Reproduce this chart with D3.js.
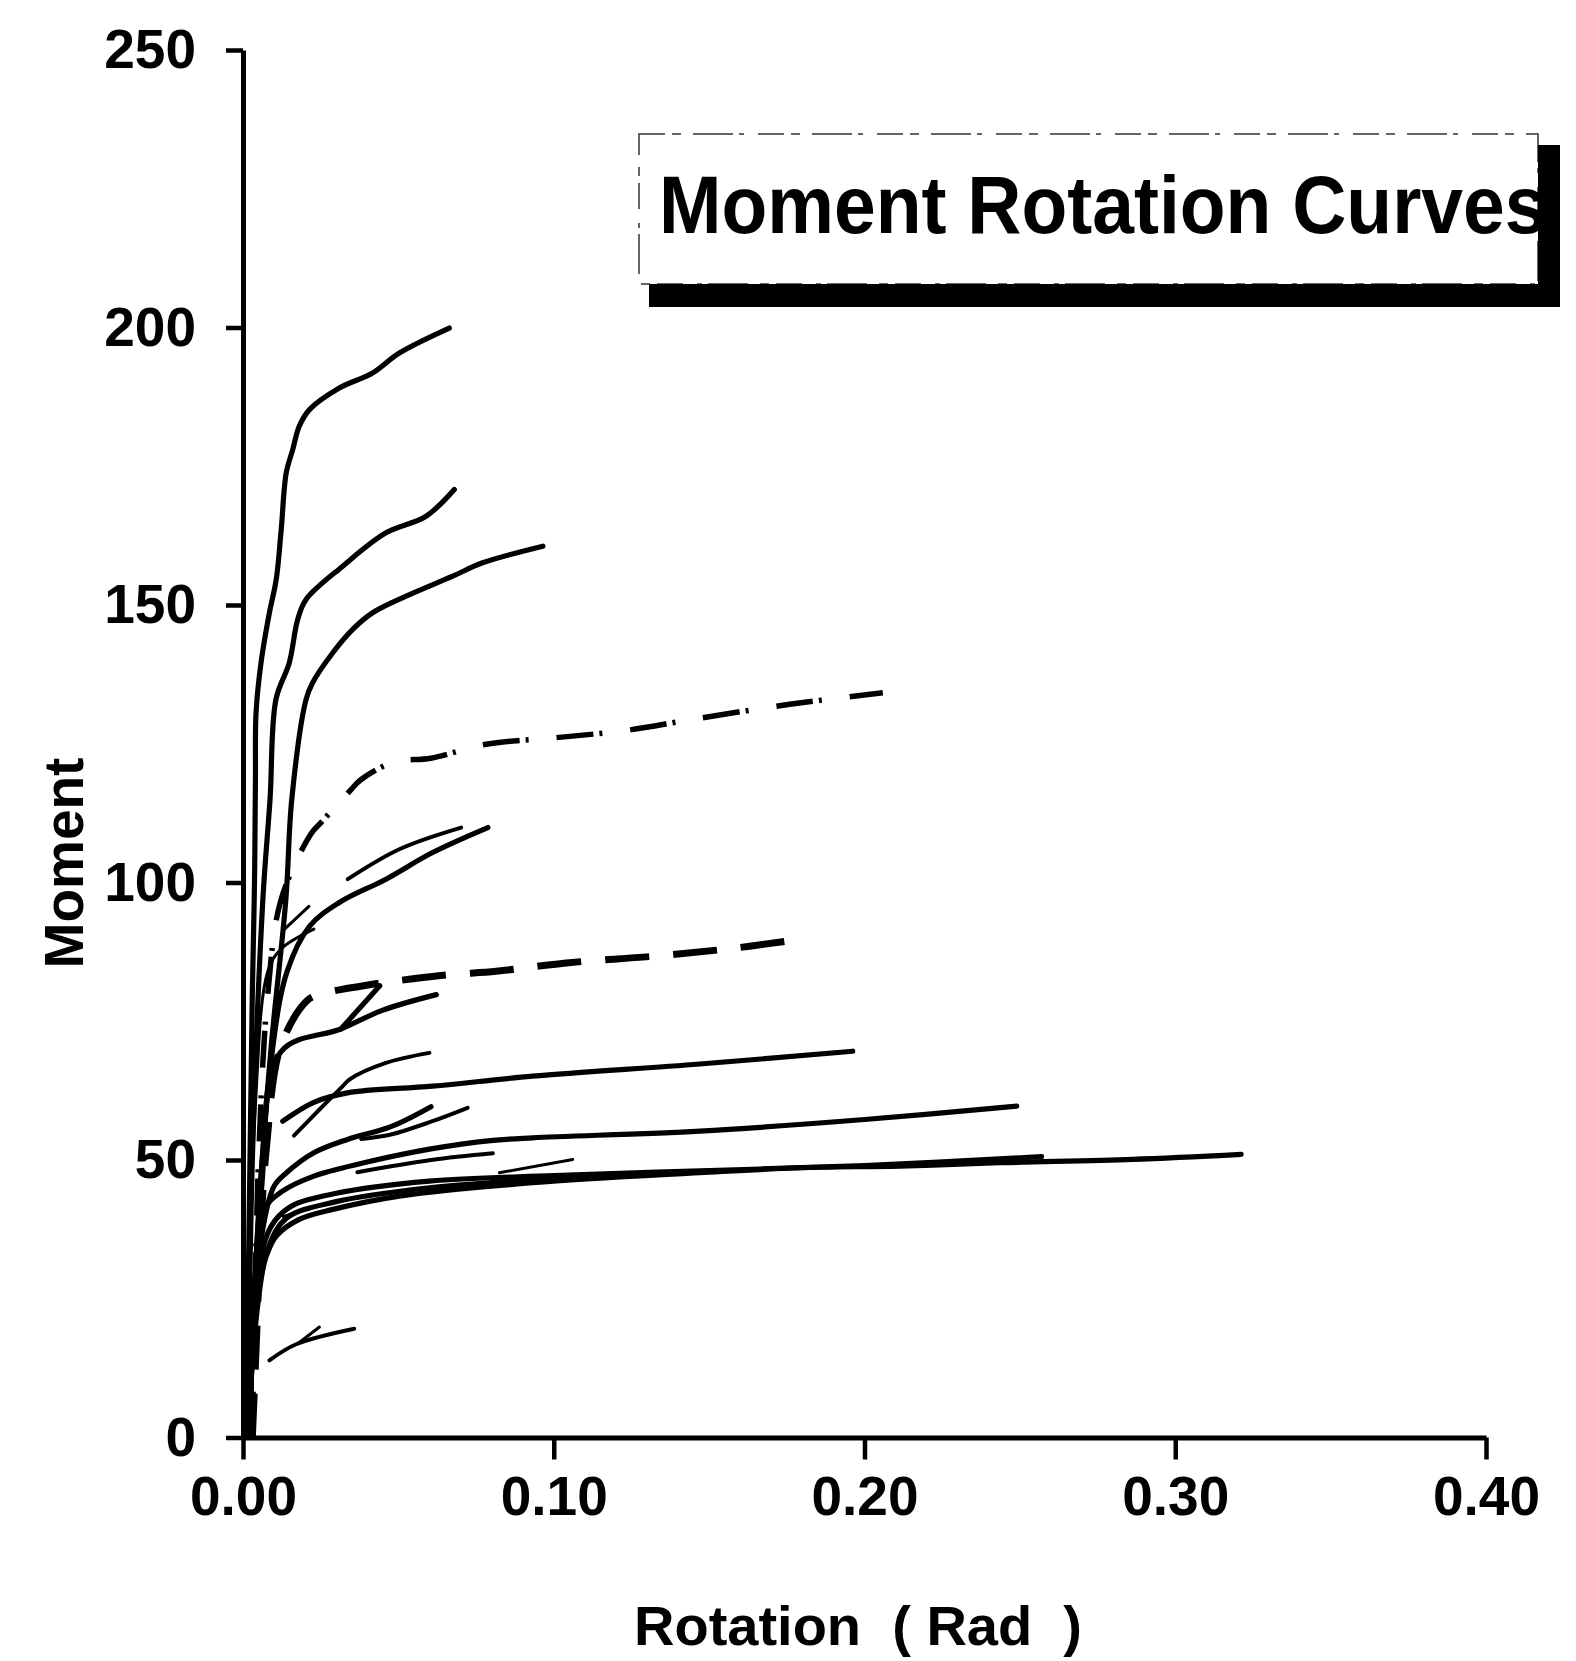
<!DOCTYPE html>
<html>
<head>
<meta charset="utf-8">
<script src="https://cdn.jsdelivr.net/npm/d3@7"></script>
<style>
  html, body { margin: 0; padding: 0; background: #fff; }
  svg { display: block; }
  text { font-family: "Liberation Sans", Arial, Helvetica, sans-serif; font-weight: bold; fill: #000; }
</style>
</head>
<body>
<svg id="chart" width="1576" height="1661"></svg>
<script>
// Axis ticks
const rotationTicks = [0, 0.1, 0.2, 0.3, 0.4];
const momentTicks = [0, 50, 100, 150, 200, 250];

// Moment–rotation test curves: [rotation (rad), moment]
const curveA = [[0.0010,0],[0.0020,40],[0.0030,80],[0.0037,100],[0.0040,118.6],[0.0042,130.6],[0.0058,139.6],[0.0085,148.6],[0.0107,154.6],[0.0123,163.6],[0.0139,173.8],[0.0160,178.0],[0.0181,182.2],[0.0214,185.2],[0.0310,189.1],[0.0417,191.8],[0.0503,195.4],[0.0664,199.9]];
const curveB = [[0.0015,0],[0.0030,50],[0.0064,97],[0.0087,115],[0.0106,133],[0.0149,139.6],[0.0176,147.4],[0.0203,151.0],[0.0321,157.0],[0.0460,163.0],[0.0589,166.0],[0.0680,170.8]];
const curveC = [[0.0020,0],[0.0050,40],[0.0090,70],[0.0138,97],[0.0157,115],[0.0203,133],[0.0224,136.0],[0.0289,141.4],[0.0353,145.6],[0.0417,148.6],[0.0525,151.6],[0.0675,155.2],[0.0771,157.6],[0.0965,160.6]];
const curveD = [[0.0030,0],[0.0050,50],[0.0080,80],[0.0122,96.8],[0.0219,108.8],[0.0251,110.8],[0.0347,116.7],[0.0379,118.5],[0.0485,121.7],[0.0604,122.4],[0.0782,124.9],[0.1008,126.1],[0.1233,127.4],[0.1447,129.4],[0.1759,132.1],[0.2059,134.2]];
const curveE = [[0.0030,0],[0.0045,20],[0.0055,35],[0.0075,52],[0.0122,70.6],[0.0208,78.8],[0.0251,79.9],[0.0421,81.7],[0.0540,82.6],[0.0669,83.4],[0.0815,84.0],[0.1040,85.5],[0.1319,86.7],[0.1555,88.0],[0.1748,89.4]];
const curveF = [[0.0020,0],[0.0060,45],[0.0122,69.5],[0.0315,73.6],[0.0450,77.0],[0.0622,79.8]];
const curveG = [[0.0315,73.6],[0.0440,81.4]];
const curveI = [[0.0020,0],[0.0050,40],[0.0095,70],[0.0142,84],[0.0214,92.1],[0.0310,96.4],[0.0460,100.6],[0.0610,105.4],[0.0788,109.9]];
const curveI2 = [[0.0010,0],[0.0040,60],[0.0080,84],[0.0122,88.0],[0.0228,91.6]];
const curveJ = [[0.0132,91.5],[0.0212,95.7]];
const curveJ2 = [[0.0337,100.6],[0.0503,106.0],[0.0702,109.9]];
const curveL = [[0.0164,54.4],[0.0246,59.1],[0.0321,63.3],[0.0342,64.5],[0.0460,67.5],[0.0600,69.3]];
const curveM = [[0.0128,57.0],[0.0228,60.4],[0.0336,62.1],[0.0610,63.3],[0.0932,65.1],[0.1470,67.3],[0.1962,69.6]];
const curveN1 = [[0.0020,0],[0.0040,25],[0.0065,38],[0.0099,45.2],[0.0140,47.7],[0.0228,51.3],[0.0336,53.7],[0.0476,56.0],[0.0605,59.6]];
const curveN2 = [[0.0380,53.8],[0.0476,54.6],[0.0605,56.9],[0.0723,59.4]];
const curveO1 = [[0.0368,47.8],[0.0605,50.0],[0.0804,51.2]];
const curveO2 = [[0.0825,47.7],[0.1061,50.1]];
const curveP1 = [[0.0020,0],[0.0040,30],[0.0068,41.1],[0.0122,44.2],[0.0228,47.1],[0.0389,49.5],[0.0605,52.0],[0.0797,53.5],[0.0932,54.0],[0.1470,55.2],[0.2000,57.3],[0.2490,59.7]];
const curveP2 = [[0.0032,18.8],[0.0053,28.0],[0.0075,32.7],[0.0107,36.3],[0.0181,39.3],[0.0289,41.1],[0.0503,43.5],[0.0932,45.9],[0.1470,47.7],[0.1790,48.6],[0.2113,48.9],[0.2435,49.5],[0.2863,50.1],[0.3212,51.0]];
const curveP3 = [[0.0020,0],[0.0050,30],[0.0090,38],[0.0150,41.5],[0.0300,44.0],[0.0600,46.2],[0.1000,47.2],[0.1500,48.1],[0.2000,49.0],[0.2570,50.6]];
const curveP4 = [[0.0040,20],[0.0080,34],[0.0140,39.5],[0.0300,42.5],[0.0600,45.0],[0.0900,46.3],[0.1200,47.2]];
const curveP5 = [[0.0129,39.8],[0.0250,41.8],[0.0399,43.5]];
const curveQ = [[0.0085,13.9],[0.0171,16.8],[0.0358,19.6]];
const curveQ2 = [[0.0176,16.9],[0.0246,19.9]];

const seriesList = [
  { values: curveA, kind: "heavy" },
  { values: curveB, kind: "heavy" },
  { values: curveC, kind: "heavy" },
  { values: curveF, kind: "heavy" },
  { values: curveG, kind: "heavy" },
  { values: curveI, kind: "heavy" },
  { values: curveI2, kind: "light" },
  { values: curveJ, kind: "light" },
  { values: curveJ2, kind: "medium" },
  { values: curveL, kind: "medium" },
  { values: curveM, kind: "heavy" },
  { values: curveN1, kind: "heavy" },
  { values: curveN2, kind: "medium" },
  { values: curveO1, kind: "medium" },
  { values: curveO2, kind: "light" },
  { values: curveP1, kind: "heavy" },
  { values: curveP3, kind: "heavy" },
  { values: curveP4, kind: "heavy" },
  { values: curveP5, kind: "light" },
  { values: curveP2, kind: "heavy" },
  { values: curveQ, kind: "medium" },
  { values: curveQ2, kind: "light" },
  { values: curveD, kind: "dashdot" },
  { values: curveE, kind: "dashed" }
];

const lineStyles = {
  heavy:   { width: 5.2, dash: null, cap: "round" },
  medium:  { width: 4,   dash: null, cap: "round" },
  light:   { width: 3,   dash: null, cap: "round" },
  dashed:  { width: 7,   dash: "44,24", cap: "butt" },
  dashdot: { width: 5.5, dash: "37,6,3,28", cap: "butt" }
};

const svg = d3.select("#chart");

const x = d3.scaleLinear().domain([0, 0.4]).range([243, 1486]);
const y = d3.scaleLinear().domain([0, 250]).range([1437.5, 50]);

// Curves
const line = d3.line()
  .x(d => x(d[0]))
  .y(d => y(d[1]))
  .curve(d3.curveCatmullRom.alpha(0.5));

svg.append("g")
  .selectAll("path")
  .data(seriesList)
  .join("path")
  .attr("d", d => line(d.values))
  .attr("fill", "none")
  .attr("stroke", "#000")
  .attr("stroke-width", d => lineStyles[d.kind].width)
  .attr("stroke-dasharray", d => lineStyles[d.kind].dash)
  .attr("stroke-linecap", d => lineStyles[d.kind].cap)
  .attr("stroke-linejoin", "round");

// Axes
const yAxis = d3.axisLeft(y)
  .tickValues(momentTicks)
  .tickFormat(d3.format("d"))
  .tickSize(17)
  .tickSizeOuter(0)
  .tickPadding(30);

const xAxis = d3.axisBottom(x)
  .tickValues(rotationTicks)
  .tickFormat(d3.format(".2f"))
  .tickSize(22)
  .tickSizeOuter(0)
  .tickPadding(16);

const gy = svg.append("g").attr("transform", `translate(${x(0)},0)`).call(yAxis);
const gx = svg.append("g").attr("transform", `translate(0,${y(0)})`).call(xAxis);

[gy, gx].forEach(g => {
  g.attr("font-family", null).attr("font-size", null);
  g.select(".domain").attr("stroke", "#000").attr("stroke-width", 5);
  g.selectAll(".tick line").attr("stroke", "#000").attr("stroke-width", 4.5);
  g.selectAll(".tick text")
    .attr("fill", "#000")
    .style("font-size", "55px")
    .style("font-family", "\"Liberation Sans\", Arial, sans-serif")
    .style("font-weight", "bold");
});

// Axis titles
svg.append("text")
  .attr("x", 858)
  .attr("y", 1645)
  .attr("text-anchor", "middle")
  .attr("xml:space", "preserve")
  .style("white-space", "pre")
  .style("font-size", "56px")
  .text("Rotation  ( Rad  )");

svg.append("text")
  .attr("transform", "translate(83,863) rotate(-90)")
  .attr("text-anchor", "middle")
  .style("font-size", "55px")
  .text("Moment");

// Title box with drop shadow
const box = { x0: 639, y0: 134, x1: 1538, y1: 284 };
svg.append("rect")
  .attr("x", box.x0).attr("y", box.y0)
  .attr("width", box.x1 - box.x0).attr("height", box.y1 - box.y0)
  .attr("fill", "#fff")
  .attr("stroke", "#333")
  .attr("stroke-width", 1.5)
  .attr("stroke-dasharray", "26,7,9,12,40,6,5,14");

svg.append("text")
  .attr("transform", "translate(659,233) scale(1,1.08)")
  .style("font-size", "75px")
  .text("Moment Rotation Curves");

// shadow bars (right and bottom)
svg.append("rect")
  .attr("x", box.x1).attr("y", 145)
  .attr("width", 22).attr("height", 307 - 145)
  .attr("fill", "#000");
svg.append("rect")
  .attr("x", 649).attr("y", box.y1)
  .attr("width", 1560 - 649).attr("height", 23)
  .attr("fill", "#000");
</script>
</body>
</html>
